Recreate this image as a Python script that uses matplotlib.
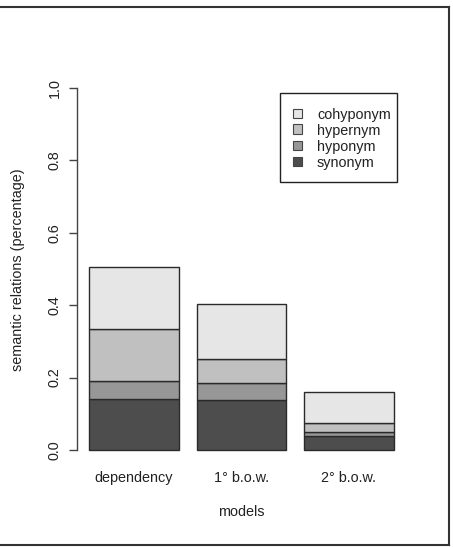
import matplotlib
matplotlib.use("Agg")
import matplotlib.pyplot as plt
from matplotlib.patches import Rectangle
from matplotlib.lines import Line2D
import numpy as np

plt.rcParams['font.family'] = ['Liberation Sans', 'DejaVu Sans']

models = ["dependency", "1° b.o.w.", "2° b.o.w."]
relations = ["synonym", "hyponym", "hypernym", "cohyponym"]
synonym = [0.140, 0.137, 0.038]
hyponym = [0.050, 0.047, 0.013]
hypernym = [0.145, 0.068, 0.024]
cohyponym = [0.171, 0.150, 0.085]
series = [synonym, hyponym, hypernym, cohyponym]
colors = ["#4D4D4D", "#979797", "#C0C0C0", "#E6E6E6"]
yticks = [0.0, 0.2, 0.4, 0.6, 0.8, 1.0]

W, H = 453, 547
fig = plt.figure(figsize=(W / 100, H / 100), dpi=100)

left_px, right_px, top_px, bottom_px = 76.8, 406.0, 73.5, 464.5
ax = fig.add_axes([left_px / W, 1 - bottom_px / H,
                   (right_px - left_px) / W, (bottom_px - top_px) / H])

x = np.array([0.7, 1.9, 3.1])
bottom = np.zeros(3)
for vals, col, name in zip(series, colors, relations):
    ax.bar(x, vals, width=1.0, bottom=bottom, color=col,
           edgecolor="#2a2a2a", linewidth=1.0, label=name)
    bottom += np.array(vals)

ax.set_xlim(0.064, 3.736)
ax.set_ylim(-0.04, 1.04)

for s in ["top", "right", "bottom"]:
    ax.spines[s].set_visible(False)
ax.spines["left"].set_bounds(0, 1)
ax.spines["left"].set_color("#444444")
ax.spines["left"].set_linewidth(1.0)

fs = 10.4
ax.set_yticks(yticks)
ax.set_yticklabels([f"{t:.1f}" for t in yticks], rotation=90, va="center",
                   fontsize=fs, color="#222222")
ax.tick_params(axis="y", length=6, width=1.0, color="#444444", pad=5)
ax.set_xticks(x)
ax.set_xticklabels(models, fontsize=fs, color="#222222")
ax.tick_params(axis="x", length=0, pad=5)

fig.text(241 / W, 1 - 512 / H, "models", ha="center", va="center",
         fontsize=fs, color="#222222")
fig.text(18 / W, 1 - 270 / H, "semantic relations (percentage)", ha="center",
         va="center", rotation=90, fontsize=fs, color="#222222")

# legend drawn in figure pixel coordinates (R-style legend box)
def fx(px):
    return px / W

def fy(py):
    return 1 - py / H

fig.add_artist(Rectangle((fx(280), fy(182)), fx(397) - fx(280),
                         fy(93) - fy(182), transform=fig.transFigure,
                         facecolor="white", edgecolor="#222222", lw=1.0))
row_y = [113, 129, 145, 161]
for ry, col, name in zip(row_y, colors[::-1], relations[::-1]):
    fig.add_artist(Rectangle((fx(293), fy(ry + 4.5)), fx(302) - fx(293),
                             fy(ry - 4.5) - fy(ry + 4.5),
                             transform=fig.transFigure, facecolor=col,
                             edgecolor="#444444", lw=0.8))
    fig.text(fx(317), fy(ry), name, ha="left", va="center_baseline",
             fontsize=fs, color="#222222")

# outer frame
fc = "#333333"
fig.add_artist(Line2D([0, fx(449)], [fy(7), fy(7)], color=fc, lw=1.5,
                      transform=fig.transFigure))
fig.add_artist(Line2D([fx(449), fx(449)], [fy(7), fy(545)], color=fc,
                      lw=1.5, transform=fig.transFigure))
fig.add_artist(Line2D([0, fx(449)], [fy(545), fy(545)], color=fc,
                      lw=1.5, transform=fig.transFigure))

fig.savefig("out.png", dpi=100)
